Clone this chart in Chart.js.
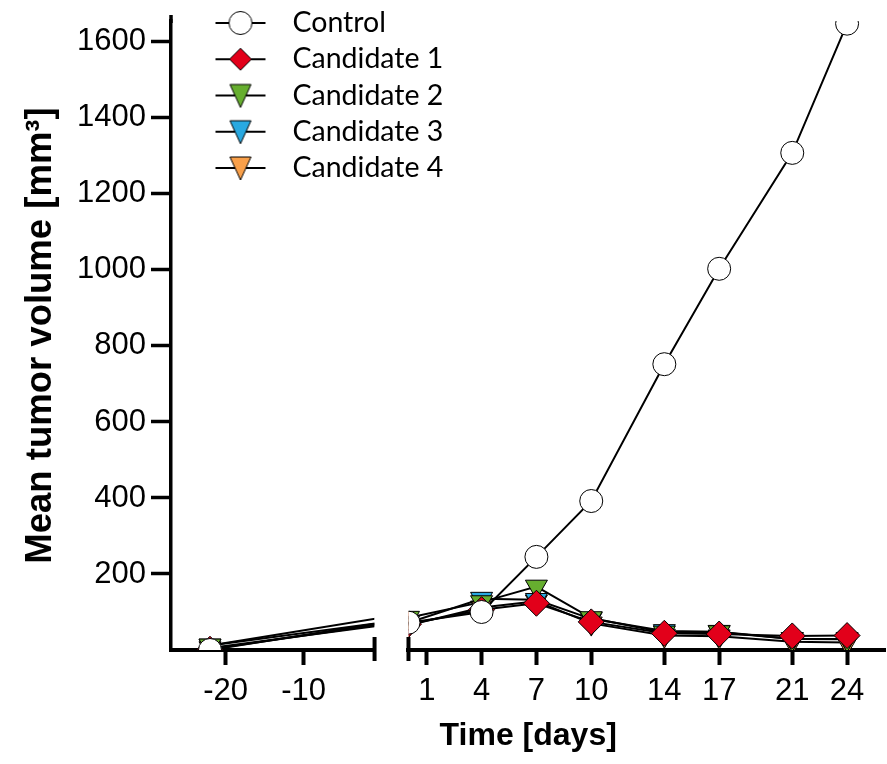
<!DOCTYPE html>
<html>
<head>
<meta charset="utf-8">
<title>Mean tumor volume</title>
<script src="https://cdn.jsdelivr.net/npm/chart.js@4.4.0/dist/chart.umd.min.js"></script>
<style>
  html, body { margin: 0; padding: 0; background: #fff; overflow: hidden; }
  #wrap { width: 887px; height: 764px; }
</style>
</head>
<body>
<div id="wrap"><canvas id="chart"></canvas></div>
<script>
// data
const days = [-22, 0, 4, 7, 10, 14, 17, 21, 24];
const control = [0, 72, 100, 245, 392, 752, 1003, 1308, 1648];
const candidate1 = [2, 68, 106, 123, 74, 44, 42, 37, 38];
const candidate2 = [12, 85, 126, 167, 84, 46, 47, 29, 28];
const candidate3 = [12, 72, 135, 132, 82, 50, 48, 29, 29];
const candidate4 = [5, 65, 112, 128, 70, 38, 36, 22, 20];

const seriesNames = ['Control', 'Candidate 1', 'Candidate 2', 'Candidate 3', 'Candidate 4'];
const seriesValues = [control, candidate1, candidate2, candidate3, candidate4];

const leftTicks = [-20, -10];
const rightTicks = [1, 4, 7, 10, 14, 17, 21, 24];
const yTicks = [200, 400, 600, 800, 1000, 1200, 1400, 1600];

// the two pieces of the broken x axis
const leftRange = [-27, -0.9];
const rightRange = [0, 26.1];

// marker looks
const markerFill = ['#ffffff', '#e2001a', '#66ae2f', '#29a9e1', '#f9a04a'];
const markerStyle = ['circle', 'rectRot', 'triangle', 'triangle', 'triangle'];
const markerRotation = [0, 0, 180, 180, 180];
const markerRadius = [11.5, 13, 12.7, 12.7, 12.7];

Chart.defaults.font.family = '"Liberation Sans", Arial, sans-serif';
Chart.defaults.color = '#000';

// legend icon: short line with the marker in the middle
function makeIcon(i) {
    const c = document.createElement('canvas');
    c.width = 52;
    c.height = 30;
    const g = c.getContext('2d');
    const cx = 26, cy = 15;
    g.strokeStyle = '#000';
    g.lineWidth = 2;
    g.beginPath();
    g.moveTo(1, cy);
    g.lineTo(51, cy);
    g.stroke();
    g.fillStyle = markerFill[i];
    g.lineWidth = 1;
    g.beginPath();
    if (markerStyle[i] === 'circle') {
        g.arc(cx, cy, 11.5, 0, Math.PI * 2);
    } else if (markerStyle[i] === 'rectRot') {
        g.moveTo(cx - 11, cy);
        g.lineTo(cx, cy - 11);
        g.lineTo(cx + 11, cy);
        g.lineTo(cx, cy + 11);
    } else {
        g.moveTo(cx - 10.5, cy - 11);
        g.lineTo(cx + 10.5, cy - 11);
        g.lineTo(cx, cy + 12);
    }
    g.closePath();
    g.fill();
    g.stroke();
    return c;
}
const legendIcons = seriesNames.map((n, i) => makeIcon(i));

function makeDataset(i, axisId, range) {
    return {
        label: seriesNames[i],
        data: days.map((d, k) => ({ x: d, y: seriesValues[i][k] })),
        xAxisID: axisId,
        yAxisID: 'y',
        borderColor: '#000',
        borderWidth: 2,
        tension: 0,
        pointStyle: markerStyle[i],
        pointRotation: markerRotation[i],
        // markers past the end of a segment are not drawn, only the line runs on
        pointRadius: c => (c.raw && c.raw.x > range[1]) ? 0 : markerRadius[i],
        pointBackgroundColor: markerFill[i],
        pointBorderColor: '#000',
        pointBorderWidth: 1,
        clip: 0
    };
}

// right-hand segment first so Control ends up on top
const datasets = [];
seriesNames.forEach((n, i) => datasets.push(makeDataset(i, 'xr', rightRange)));
seriesNames.forEach((n, i) => datasets.push(makeDataset(i, 'xl', leftRange)));

const tickFont = { size: 31 };

function xAxis(range, weight, ticks) {
    return {
        type: 'linear',
        position: 'bottom',
        stack: 'x',
        stackWeight: weight,
        min: range[0],
        max: range[1],
        afterBuildTicks: s => { s.ticks = ticks.map(v => ({ value: v })); },
        afterFit: s => { s.height = 60; },
        grid: { drawOnChartArea: false, tickLength: 15, tickWidth: 4, tickColor: '#000' },
        border: { color: '#000', width: 4 },
        ticks: { color: '#000', font: tickFont, padding: 8, maxRotation: 0, autoSkip: false }
    };
}

// each dataset is clipped to the width of its own x segment
const segmentClip = {
    id: 'segmentClip',
    beforeDatasetDraw(chart, args) {
        const m = args.meta;
        const ctx = chart.ctx;
        ctx.save();
        ctx.beginPath();
        ctx.rect(m.xScale.left, m.yScale.top, m.xScale.right - m.xScale.left, m.yScale.bottom - m.yScale.top);
        ctx.clip();
    },
    afterDatasetDraw(chart) {
        chart.ctx.restore();
    }
};

// vertical marks at both sides of the axis break, and the y axis running a bit past its top
const axisBreaks = {
    id: 'axisBreaks',
    afterDraw(chart) {
        const ctx = chart.ctx;
        const l = chart.scales.xl, r = chart.scales.xr, ys = chart.scales.y;
        const y = l.top;
        ctx.save();
        ctx.strokeStyle = '#000';
        ctx.lineWidth = 4;
        [l.right, r.left].forEach(x => {
            ctx.beginPath();
            ctx.moveTo(x, y - 13);
            ctx.lineTo(x, y + 11);
            ctx.stroke();
        });
        ctx.lineWidth = 3.5;
        ctx.beginPath();
        ctx.moveTo(ys.right, ys.top + 2);
        ctx.lineTo(ys.right, ys.top - 6);
        ctx.stroke();
        ctx.restore();
    }
};

// put the legend inside the plot, top left
const legendPlacer = {
    id: 'legendPlacer',
    afterLayout(chart) {
        const lg = chart.legend;
        lg.left = chart.chartArea.left + 24;
        lg.right = lg.left + lg.width;
        lg.top = 1;
        lg.bottom = chart.height;
    }
};

const ctx = document.getElementById('chart').getContext('2d');
new Chart(ctx, {
    type: 'line',
    data: { datasets: datasets },
    options: {
        responsive: true,
        maintainAspectRatio: false,
        animation: false,
        layout: { autoPadding: false, padding: { top: 21, right: 0, bottom: 8.6, left: 0 } },
        scales: {
            y: {
                type: 'linear',
                position: 'left',
                min: 0,
                max: 1655,
                afterBuildTicks: s => { s.ticks = yTicks.map(v => ({ value: v })); },
                afterFit: s => { s.width = 171; },
                grid: { drawOnChartArea: false, tickLength: 20, tickWidth: 3.5, tickColor: '#000' },
                border: { color: '#000', width: 3.5 },
                ticks: {
                    color: '#000',
                    font: { size: 31, lineHeight: 1 },
                    padding: 5,
                    callback: v => String(v)
                },
                title: {
                    display: true,
                    text: 'Mean tumor volume [mm³]',
                    color: '#000',
                    font: { size: 36.5, weight: 'bold' },
                    padding: { top: 19, bottom: 0 }
                }
            },
            xl: xAxis(leftRange, 204, leftTicks),
            xg: {
                type: 'linear',
                position: 'bottom',
                stack: 'x',
                stackWeight: 34,
                min: 0,
                max: 1,
                afterFit: s => { s.height = 60; },
                grid: { display: false },
                border: { display: false },
                ticks: { display: false }
            },
            xr: xAxis(rightRange, 478, rightTicks)
        },
        plugins: {
            tooltip: { enabled: false },
            title: {
                display: true,
                text: 'Time [days]',
                position: 'bottom',
                fullSize: false,
                color: '#000',
                font: { size: 32, weight: 'bold' },
                padding: { top: 7, bottom: 0 }
            },
            legend: {
                position: 'chartArea',
                align: 'start',
                labels: {
                    usePointStyle: true,
                    pointStyleWidth: 75.5,
                    padding: 7.75,
                    color: '#000',
                    font: { family: 'Lato', size: 28.5 },
                    generateLabels: () => seriesNames.map((name, i) => ({
                        text: name,
                        pointStyle: legendIcons[i],
                        datasetIndex: i,
                        hidden: false,
                        lineWidth: 0,
                        fillStyle: 'transparent',
                        strokeStyle: 'transparent',
                        fontColor: '#000'
                    }))
                }
            }
        }
    },
    plugins: [segmentClip, axisBreaks, legendPlacer]
});
</script>
</body>
</html>
